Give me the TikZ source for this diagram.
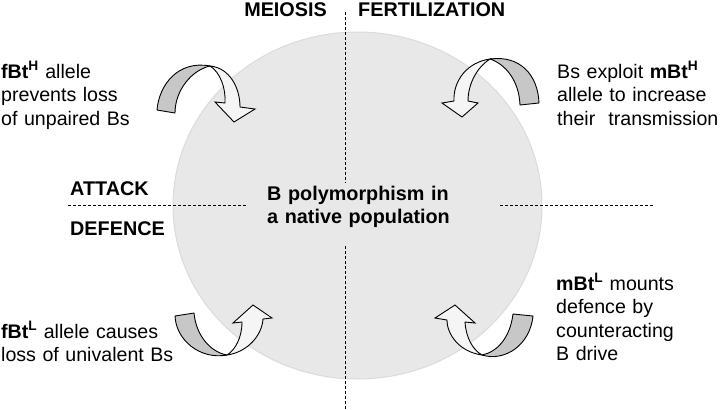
\documentclass[tikz,border=0pt]{standalone}
\usepackage{fontspec}
\setmainfont{Liberation Sans}
\usetikzlibrary{shapes.geometric}
\begin{document}
\begin{tikzpicture}[x=1bp,y=-1bp,
  txt/.style={inner sep=0pt, font=\fontsize{19.6bp}{23.5bp}\selectfont},
  mtxt/.style={txt, text width=220bp, align=left, anchor=base west},
  lbl/.style={txt, font=\fontsize{19.8bp}{23.5bp}\selectfont\bfseries},
  divider/.style={line width=0.9bp, dash pattern=on 3bp off 2bp},
  backpart/.style={draw=black, line width=0.9bp, fill=black!22, line join=round},
  frontpart/.style={draw=black, line width=0.9bp, fill=black!4, line join=miter}]
\useasboundingbox (0,0) rectangle (720,409);
% population circle
\node[draw=black!14, line width=1bp, fill=black!9, ellipse, inner sep=0pt,
      minimum width=369bp, minimum height=347bp] (pop) at (357.5,205.5) {};
% dividers
\coordinate (vt1) at (345.5,12);
\coordinate (vb1) at (345.5,183);
\coordinate (vt2) at (345.5,246);
\coordinate (vb2) at (345.5,409);
\coordinate (hl1) at (68,205);
\coordinate (hl2) at (247,205);
\coordinate (hr1) at (500,205);
\coordinate (hr2) at (653,205);
\draw[divider] (vt1) -- (vb1);
\draw[divider] (vt2) -- (vb2);
\draw[divider] (hl1) -- (hl2);
\draw[divider] (hr1) -- (hr2);
% top-left arrow
\path[backpart] (157,110) .. controls (159,85) and (178,60) .. (210,66)
  .. controls (192,70) and (175,90) .. (175,113) -- cycle;
\path[frontpart] (210,66) .. controls (220,72) and (226,88) .. (225,103) -- (215,102) -- (234,122)
  -- (255,109) -- (240,107) .. controls (240,88) and (230,68) .. (210,66) -- cycle;
% top-right arrow
\path[backpart] (539,103) .. controls (538,75) and (520,55) .. (490,59)
  .. controls (505,64) and (519,80) .. (520,105) -- cycle;
\path[frontpart] (490,59) .. controls (468,62) and (453,80) .. (454,101) -- (442,103) -- (462,117)
  -- (478,103) -- (468,101) .. controls (468,85) and (476,68) .. (490,59) -- cycle;
% bottom-left arrow
\path[backpart] (175,316) -- (194,313) .. controls (196,335) and (210,352) .. (227,355)
  .. controls (200,360) and (176,340) .. (175,316) -- cycle;
\path[frontpart] (227,355) .. controls (248,352) and (262,335) .. (263,319) -- (272,318) -- (253,305)
  -- (233,323) -- (242,322) .. controls (242,338) and (235,350) .. (227,355) -- cycle;
% bottom-right arrow
\path[backpart] (533,316) -- (513,314) .. controls (510,338) and (497,352) .. (482,355)
  .. controls (505,362) and (530,345) .. (533,316) -- cycle;
\path[frontpart] (482,355) .. controls (460,352) and (447,335) .. (447,320) -- (435,318) -- (455,305)
  -- (475,323) -- (465,322) .. controls (466,338) and (473,350) .. (482,355) -- cycle;
% labels
\node[lbl, anchor=base east] (meiosis) at (327,16) {MEIOSIS};
\node[lbl, anchor=base west] (fert) at (358,16) {FERTILIZATION};
\node[lbl, anchor=base west] (attack) at (70,195) {ATTACK};
\node[lbl, anchor=base west] (defence) at (70,235) {DEFENCE};
\node[mtxt, font=\fontsize{19.8bp}{23.5bp}\selectfont\bfseries] (centre) at (267,200) {B polymorphism in\\a native population};
% descriptions
\node[mtxt] (tl) at (1,78) {\textbf{fBt\textsuperscript{H}} allele\\prevents loss\\of unpaired Bs};
\node[mtxt] (tr) at (557,78) {Bs exploit \textbf{mBt\textsuperscript{H}}\\allele to increase\\their\ \ transmission};
\node[mtxt] (bl) at (1,338) {\textbf{fBt\textsuperscript{L}} allele causes\\loss of univalent Bs};
\node[mtxt] (br) at (556,290) {\textbf{mBt\textsuperscript{L}} mounts\\defence by\\counteracting\\B drive};
\end{tikzpicture}
\end{document}
